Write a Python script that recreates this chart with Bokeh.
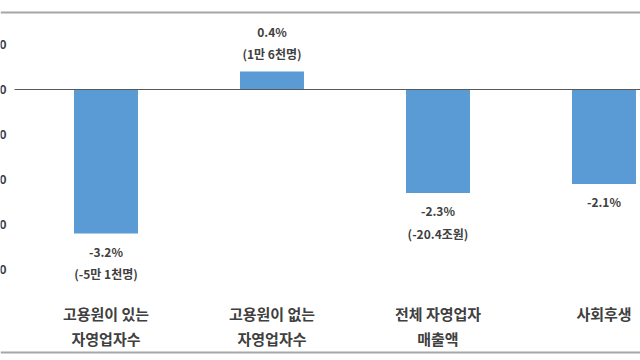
from bokeh.plotting import figure
from bokeh.models import Range1d, Span, ColumnDataSource
from bokeh.core.properties import value
from bokeh.embed import file_html
from bokeh.resources import INLINE

categories = ["고용원이 있는\n자영업자수", "고용원이 없는\n자영업자수", "전체 자영업자\n매출액", "사회후생"]
values = [-3.2, 0.4, -2.3, -2.1]
details = ["(-5만 1천명)", "(1만 6천명)", "(-20.4조원)", ""]
y_ticks = [1, 0, -1, -2, -3, -4]
y_tick_visible_text = ["0", "0", "0", "0", "0", "0"]  # only last digit of each tick label is visible (cropped)

X_START, X_END = -0.6355, 3.22
PLOT_LEFT = -0.551  # left edge of the plot area (after the cropped tick labels)
FONT = value("Noto Sans CJK KR")
x = list(range(len(categories)))
labels = [(f"{v:.1f}%" + ("\n" + d if d else "")) for v, d in zip(values, details)]

src = ColumnDataSource(dict(x=x, top=values, label=labels, cat=categories))
neg = ColumnDataSource(dict(x=[a for a, v in zip(x, values) if v < 0],
                            y=[v for v in values if v < 0],
                            label=[l for l, v in zip(labels, values) if v < 0]))
pos = ColumnDataSource(dict(x=[a for a, v in zip(x, values) if v >= 0],
                            y=[v for v in values if v >= 0],
                            label=[l for l, v in zip(labels, values) if v >= 0]))
ticks = ColumnDataSource(dict(x=[X_START] * len(y_ticks), y=y_ticks, t=y_tick_visible_text))

p = figure(width=640, height=360, output_backend="svg", toolbar_location=None,
           x_range=Range1d(X_START, X_END), y_range=Range1d(-6.022, 1.978),
           min_border=0)
p.axis.visible = False
p.grid.visible = False
p.outline_line_color = None
p.background_fill_color = "white"

p.vbar(x="x", top="top", bottom=0, width=0.3855, source=src,
       fill_color="#5b9bd5", line_color=None)

p.segment(x0=PLOT_LEFT, x1=X_END, y0=0, y1=0, line_color="#595959", line_width=1)
p.add_layout(Span(location=1.711, dimension="width", line_color="#a6a6a6", line_width=2))
p.add_layout(Span(location=-5.844, dimension="width", line_color="#a6a6a6", line_width=2))

p.text(x="x", y="y", text="t", source=ticks, text_align="right", text_baseline="middle",
       x_offset=6, text_font=FONT, text_font_size="12px", text_font_style="bold",
       text_color="#404040")

p.text(x="x", y="y", text="label", source=neg, text_align="center", text_baseline="top",
       y_offset=9, text_font=FONT, text_font_size="12px", text_font_style="bold",
       text_color="#404040", text_line_height=1.35)
p.text(x="x", y="y", text="label", source=pos, text_align="center", text_baseline="bottom",
       y_offset=-9, text_font=FONT, text_font_size="12px", text_font_style="bold",
       text_color="#404040", text_line_height=1.35)

p.text(x="x", y=-4.745, text="cat", source=src, text_align="center", text_baseline="top",
       text_font=FONT, text_font_size="15px", text_font_style="bold", text_color="#404040",
       text_line_height=1.19)

open("out.html", "w").write(file_html(p, INLINE))
